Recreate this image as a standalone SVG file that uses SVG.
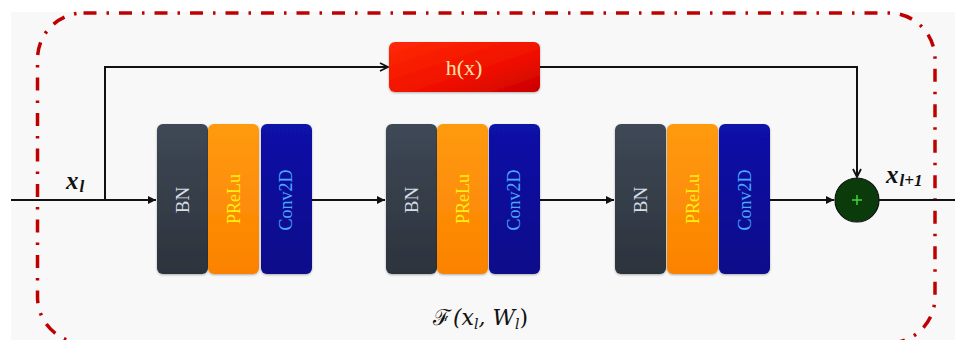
<svg xmlns="http://www.w3.org/2000/svg" width="955" height="340" viewBox="0 0 955 340">
  <defs>
    <linearGradient id="gBN" x1="0" y1="0" x2="0" y2="1">
      <stop offset="0" stop-color="#3e4856"/>
      <stop offset="1" stop-color="#2c333c"/>
    </linearGradient>
    <linearGradient id="gPR" x1="0" y1="0" x2="0" y2="1">
      <stop offset="0" stop-color="#ff9a10"/>
      <stop offset="1" stop-color="#fb8200"/>
    </linearGradient>
    <linearGradient id="gCV" x1="0" y1="0" x2="0" y2="1">
      <stop offset="0" stop-color="#0d12a8"/>
      <stop offset="1" stop-color="#08088a"/>
    </linearGradient>
    <linearGradient id="gH" x1="0" y1="0" x2="1" y2="1">
      <stop offset="0" stop-color="#ff2a08"/>
      <stop offset="0.6" stop-color="#f01000"/>
      <stop offset="1" stop-color="#c80000"/>
    </linearGradient>
    <filter id="soft" x="-10%" y="-10%" width="120%" height="120%">
      <feDropShadow dx="0" dy="1" stdDeviation="1.2" flood-color="#000" flood-opacity="0.3"/>
    </filter>
    <marker id="solid" viewBox="0 0 10 10" refX="10" refY="5" markerWidth="8" markerHeight="8" markerUnits="userSpaceOnUse" orient="auto">
      <path d="M0,0 L10,5 L0,10 z" fill="#111"/>
    </marker>
    <marker id="open" viewBox="0 0 10 10" refX="9" refY="5" markerWidth="10" markerHeight="10" markerUnits="userSpaceOnUse" orient="auto">
      <path d="M1,1 L9,5 L1,9" fill="none" stroke="#111" stroke-width="1.8"/>
    </marker>
  </defs>
  <style>
    .wire { fill: none; stroke: #111; stroke-width: 2; }
    .blk { filter: url(#soft); }
    .lbl { font-family: "Liberation Serif", "DejaVu Serif", serif; text-anchor: middle; }
    .math { font-family: "Liberation Serif", "DejaVu Serif", serif; font-style: italic; font-weight: bold; fill: #111; }
  </style>

  <!-- page background -->
  <rect x="0" y="0" width="955" height="340" fill="#ffffff"/>
  <rect x="11" y="12" width="944" height="328" fill="#f8f8f8"/>

  <!-- dash-dot boundary of the residual unit -->
  <rect x="37.5" y="13" width="897.5" height="330" rx="46" ry="46" fill="none" stroke="#bf0000" stroke-width="3.5" stroke-dasharray="13 10 2.5 10"/>

  <!-- connectors -->
  <g id="connectors">
    <path class="wire" d="M11,200 H156" marker-end="url(#solid)"/>
    <path class="wire" d="M105,200 V67 H388" marker-end="url(#open)"/>
    <path class="wire" d="M540,67 H857 V177" marker-end="url(#open)"/>
    <path class="wire" d="M312,200 H385" marker-end="url(#solid)"/>
    <path class="wire" d="M540,200 H614" marker-end="url(#solid)"/>
    <path class="wire" d="M770,200 H834" marker-end="url(#solid)"/>
    <path class="wire" d="M879,200 H955"/>
  </g>

  <!-- shortcut transform -->
  <g id="hx">
    <rect class="blk" x="389" y="42" width="151" height="50" rx="6" fill="url(#gH)"/>
    <text class="lbl" x="464" y="75" font-size="22" fill="#ffe2a8">h(x)</text>
  </g>

  <!-- block 1 -->
  <g id="block1">
    <rect class="blk" x="157" y="124" width="51" height="150" rx="6" fill="url(#gBN)"/>
    <rect class="blk" x="208" y="124" width="51" height="150" rx="6" fill="url(#gPR)"/>
    <rect class="blk" x="261" y="124" width="51" height="150" rx="6" fill="url(#gCV)"/>
    <text class="lbl" transform="translate(189,200) rotate(-90)" font-size="19" fill="#d6dde6">BN</text>
    <text class="lbl" transform="translate(240,199) rotate(-90)" font-size="18" fill="#ffee10">PReLu</text>
    <text class="lbl" transform="translate(292,200) rotate(-90)" font-size="18" fill="#4aa8ff">Conv2D</text>
  </g>

  <!-- block 2 -->
  <g id="block2">
    <rect class="blk" x="386" y="124" width="51" height="150" rx="6" fill="url(#gBN)"/>
    <rect class="blk" x="437" y="124" width="51" height="150" rx="6" fill="url(#gPR)"/>
    <rect class="blk" x="489" y="124" width="51" height="150" rx="6" fill="url(#gCV)"/>
    <text class="lbl" transform="translate(418,200) rotate(-90)" font-size="19" fill="#d6dde6">BN</text>
    <text class="lbl" transform="translate(469,199) rotate(-90)" font-size="18" fill="#ffee10">PReLu</text>
    <text class="lbl" transform="translate(520,200) rotate(-90)" font-size="18" fill="#4aa8ff">Conv2D</text>
  </g>

  <!-- block 3 -->
  <g id="block3">
    <rect class="blk" x="615" y="124" width="51" height="150" rx="6" fill="url(#gBN)"/>
    <rect class="blk" x="667" y="124" width="51" height="150" rx="6" fill="url(#gPR)"/>
    <rect class="blk" x="719" y="124" width="51" height="150" rx="6" fill="url(#gCV)"/>
    <text class="lbl" transform="translate(647,200) rotate(-90)" font-size="19" fill="#d6dde6">BN</text>
    <text class="lbl" transform="translate(699,199) rotate(-90)" font-size="18" fill="#ffee10">PReLu</text>
    <text class="lbl" transform="translate(751,200) rotate(-90)" font-size="18" fill="#4aa8ff">Conv2D</text>
  </g>

  <!-- element-wise sum -->
  <g id="sum">
    <circle cx="857" cy="200" r="22" fill="#0b3a0b" stroke="#111" stroke-width="1.2"/>
    <path d="M852,200 H862 M857,195 V205" stroke="#3cd83c" stroke-width="1.5"/>
  </g>

  <!-- labels -->
  <g id="labels">
    <text class="math" x="66" y="189" font-size="25">x<tspan font-size="17" dy="3" dx="1">l</tspan></text>
    <text class="math" x="886" y="183" font-size="25">x<tspan font-size="17" dy="3" dx="1">l+1</tspan></text>
    <text x="433" y="325" font-family="'DejaVu Serif', 'Liberation Serif', serif" font-size="22" fill="#111">ℱ<tspan font-style="italic" dx="2">(x</tspan><tspan font-style="italic" font-size="14" dy="4">l</tspan><tspan font-style="italic" dy="-4">, W</tspan><tspan font-style="italic" font-size="14" dy="4">l</tspan><tspan dy="-4">)</tspan></text>
  </g>
</svg>
